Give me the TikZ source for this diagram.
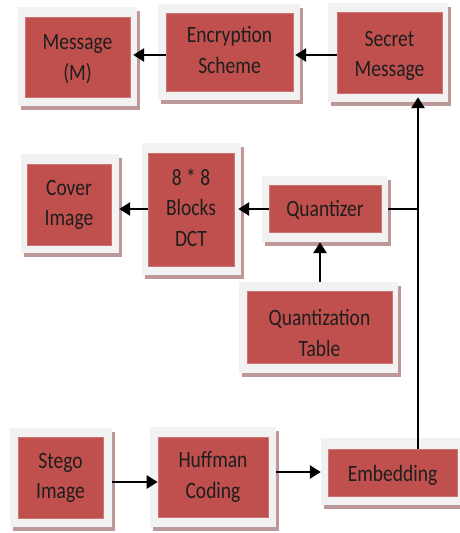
\documentclass[tikz,border=0pt]{standalone}
\usepackage{fontspec}
\setmainfont{Carlito}
\usepackage{graphicx}
\usetikzlibrary{fit,shadows,arrows.meta}
\definecolor{redcol}{HTML}{C0504D}
\definecolor{framecol}{HTML}{F2F2F2}
\definecolor{shadcol}{HTML}{BC9898}
\definecolor{txtcol}{HTML}{1E1E1E}
\newcommand\tx[1]{\scalebox{1}[1.2]{\begin{tabular}{@{}c@{}}#1\end{tabular}}}
\newcommand\lowr[2]{\raisebox{-#1}[\height][\depth]{#2}}
\begin{document}
\begin{tikzpicture}[x=1pt,y=-1pt,
  frame/.style={fill=framecol, inner sep=0pt,
    drop shadow={shadow xshift=2.5pt, shadow yshift=-4pt, fill=shadcol, opacity=1}},
  redbox/.style={fill=redcol, draw=redcol!80!white, line width=0.6pt, inner sep=0pt,
    text=txtcol, font=\fontsize{19.5}{25.5}\selectfont},
  arr/.style={line width=2.6pt, -{Triangle[length=11pt,width=13pt]}},
  link/.style={line width=1.3pt}]
\useasboundingbox (0,0) rectangle (460,533);

% row 1
\node[frame, fit={(18,7)(137,106)}] (msgO) {};
\node[redbox, minimum width=105pt, minimum height=80pt] (msg) at (77.5,57) {\lowr{2pt}{\tx{Message\\(M)}}};
\node[frame, fit={(158,4)(300,100)}] (encO) {};
\node[redbox, minimum width=127pt, minimum height=78pt] (enc) at (229.5,52) {\tx{Encryption\\Scheme}};
\node[frame, fit={(328,3)(448,102)}] (secO) {};
\node[redbox, minimum width=105pt, minimum height=81pt] (sec) at (389.5,52.5) {\lowr{3pt}{\tx{Secret\\Message}}};

% row 2
\node[frame, fit={(21,154)(119,253)}] (covO) {};
\node[redbox, minimum width=84pt, minimum height=81pt] (cov) at (69,204.5) {\tx{Cover\\Image}};
\node[frame, fit={(142,143)(241,275)}] (dctO) {};
\node[redbox, minimum width=86pt, minimum height=113pt] (dct) at (191,209.5) {\tx{8 * 8\\Blocks\\DCT}};
\node[frame, fit={(262,176)(388,242)}] (qzO) {};
\node[redbox, minimum width=112pt, minimum height=47pt] (qz) at (325,208.5) {\lowr{2pt}{\tx{Quantizer}}};
\node[frame, fit={(239,282)(398,373)}] (qtO) {};
\node[redbox, minimum width=145pt, minimum height=72pt] (qt) at (319.5,327) {\lowr{8pt}{\tx{Quantization\\Table}}};

% row 3
\node[frame, fit={(10,428)(112,527)}] (stO) {};
\node[redbox, minimum width=85pt, minimum height=81pt] (st) at (60.5,477.5) {\tx{Stego\\Image}};
\node[frame, fit={(150,427)(276,527)}] (hfO) {};
\node[redbox, minimum width=110pt, minimum height=80pt] (hf) at (213,477) {\tx{Huffman\\Coding}};
\node[frame, fit={(321,438)(460,505)}] (embO) {};
\node[redbox, minimum width=129pt, minimum height=47pt] (emb) at (392.5,472.5) {\lowr{3pt}{\tx{Embedding}}};

% helper coordinates
\coordinate (r1) at (0,55);
\coordinate (r2) at (0,209);
\coordinate (r3) at (0,482);
\coordinate (r4) at (0,472);
\coordinate (vx) at (418,0);
\coordinate (qx) at (320,0);
\coordinate (jn) at (418,209);

% connectors
\draw[arr, shorten >=-4pt] (enc.west |- r1) -- (msgO.east |- r1);
\draw[arr, shorten >=-5pt] (sec.west |- r1) -- (encO.east |- r1);
\draw[arr] (dct.west |- r2) -- (covO.east |- r2);
\draw[arr, shorten >=-3pt] (qz.west |- r2) -- (dctO.east |- r2);
\draw[link] (qzO.east |- r2) -- (jn);
\draw[arr] (qtO.north -| qx) -- (qzO.south -| qx);
\draw[arr] (stO.east |- r3) -- (hf.west |- r3);
\draw[arr] (hfO.east |- r4) -- (embO.west |- r4);
\draw[arr, shorten >=-5pt] (emb.north -| vx) -- (secO.south -| vx);
\end{tikzpicture}
\end{document}
